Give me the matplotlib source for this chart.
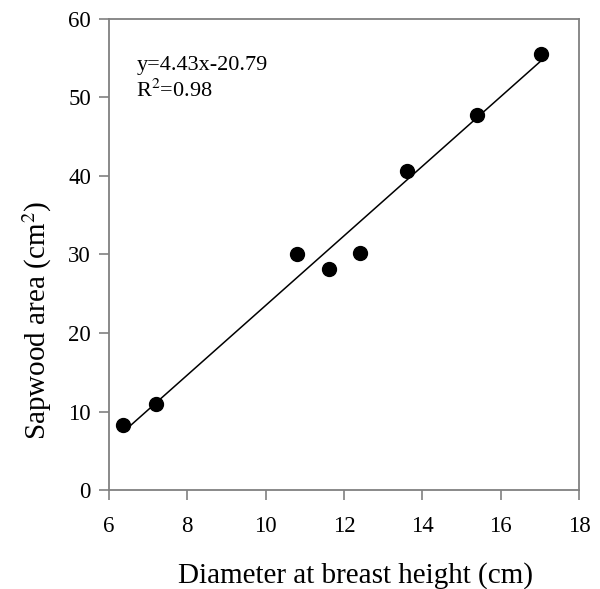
import numpy as np
import matplotlib
matplotlib.use("Agg")
import matplotlib.pyplot as plt

# sapwood area vs diameter at breast height
dbh = [6.36, 7.2, 10.8, 11.62, 12.41, 13.61, 15.4, 17.03]
sapwood = [8.28, 10.96, 30.06, 28.15, 30.2, 40.6, 47.8, 55.5]
slope, intercept = 4.43, -20.79
r2 = 0.98

xticks = [6, 8, 10, 12, 14, 16, 18]
yticks = [0, 10, 20, 30, 40, 50, 60]

plt.rcParams["font.family"] = ["Liberation Serif", "DejaVu Serif"]
plt.rcParams["mathtext.fontset"] = "stix"

fig = plt.figure(figsize=(6.0, 5.89), dpi=100)
ax = fig.add_axes([0.1817, 0.168, 0.7833, 0.8])

ax.scatter(dbh, sapwood, s=100, color="black", zorder=3)
xs = np.array([min(dbh), max(dbh)])
ax.plot(xs, slope * xs + intercept, color="black", lw=1.1, zorder=2)

ax.set_xlim(6, 18)
ax.set_ylim(0, 60)
ax.set_xticks(xticks)
ax.set_yticks(yticks)
ax.tick_params(direction="out", length=7, width=1.2, color="#808080",
               labelsize=16.5, pad=12)
ax.tick_params(axis="y", pad=6)
for sp in ax.spines.values():
    sp.set_color("#808080")
    sp.set_linewidth(1.3)

ax.set_xlabel("Diameter at breast height (cm)", fontsize=21, labelpad=18, x=0.525)
ax.set_ylabel("Sapwood area (cm$^2$)", fontsize=21, labelpad=10, y=0.36)

ax.text(0.058, 0.902, f"y={slope:.2f}x{intercept:.2f}", transform=ax.transAxes,
        fontsize=16, va="center")
ax.text(0.058, 0.848, f"R$^2$={r2:.2f}", transform=ax.transAxes,
        fontsize=16, va="center")

fig.savefig("out.png", dpi=100)
